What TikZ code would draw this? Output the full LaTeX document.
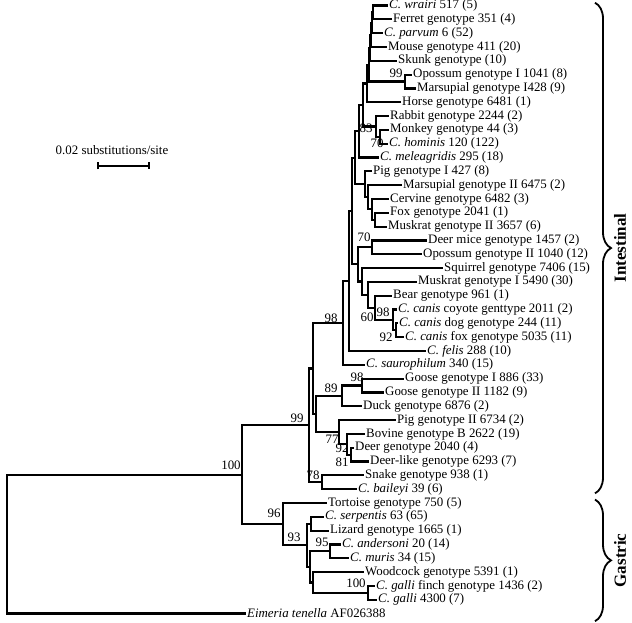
\documentclass[tikz,border=0pt]{standalone}
\usepackage{fontspec}
\setmainfont{Liberation Serif}
\usepackage{tikz}
\usetikzlibrary{arrows.meta,decorations.pathreplacing}

\begin{document}
\begin{tikzpicture}[x=1pt, y=-13.82pt,
  every node/.style={font=\fontsize{12.9}{14}\selectfont},
  leaf/.style={anchor=west, inner xsep=2pt, inner ysep=0pt},
  bs/.style={inner sep=0pt},
  branch/.style={line width=2.2pt, line cap=rect},
  grp/.style={rotate=90, font=\fontsize{17}{17}\selectfont\bfseries},
  curly/.style={decorate, decoration={brace, amplitude=16pt}, line width=1.8pt}]

  \useasboundingbox (0,-0.398) rectangle (632,44.68);

  % taxa, one per row
  \node[leaf] (wrairi) at (387,0) {\textit{C. wrairi} 517 (5)};
  \node[leaf] (ferret) at (391,1) {Ferret genotype 351 (4)};
  \node[leaf] (parvum) at (382,2) {\textit{C. parvum} 6 (52)};
  \node[leaf] (mouse) at (386,3) {Mouse genotype 411 (20)};
  \node[leaf] (skunk) at (396,4) {Skunk genotype (10)};
  \node[leaf] (opossumI) at (411,5) {Opossum genotype I 1041 (8)};
  \node[leaf] (marsupI) at (415,6) {Marsupial genotype I428 (9)};
  \node[leaf] (horse) at (400,7) {Horse genotype 6481 (1)};
  \node[leaf] (rabbit) at (388,8) {Rabbit genotype 2244 (2)};
  \node[leaf] (monkey) at (388,9) {Monkey genotype 44 (3)};
  \node[leaf] (hominis) at (387,10) {\textit{C. hominis} 120 (122)};
  \node[leaf] (meleag) at (378,11) {\textit{C. meleagridis} 295 (18)};
  \node[leaf] (pigI) at (371,12) {Pig genotype I 427 (8)};
  \node[leaf] (marsupII) at (401,13) {Marsupial genotype II 6475 (2)};
  \node[leaf] (cervine) at (388,14) {Cervine genotype 6482 (3)};
  \node[leaf] (fox) at (388,15) {Fox genotype 2041 (1)};
  \node[leaf] (muskratII) at (386,16) {Muskrat genotype II 3657 (6)};
  \node[leaf] (deermice) at (426,17) {Deer mice genotype 1457 (2)};
  \node[leaf] (opossumII) at (421,18) {Opossum genotype II 1040 (12)};
  \node[leaf] (squirrel) at (442,19) {Squirrel genotype 7406 (15)};
  \node[leaf] (muskratI) at (416,20) {Muskrat genotype I 5490 (30)};
  \node[leaf] (bear) at (391,21) {Bear genotype 961 (1)};
  \node[leaf] (coyote) at (396,22) {\textit{C. canis} coyote genttype 2011 (2)};
  \node[leaf] (dog) at (397,23) {\textit{C. canis} dog genotype 244 (11)};
  \node[leaf] (canisfox) at (403,24) {\textit{C. canis} fox genotype 5035 (11)};
  \node[leaf] (felis) at (425,25) {\textit{C. felis} 288 (10)};
  \node[leaf] (sauro) at (364,26) {\textit{C. saurophilum} 340 (15)};
  \node[leaf] (gooseI) at (403,27) {Goose genotype I 886 (33)};
  \node[leaf] (gooseII) at (383,28) {Goose genotype II 1182 (9)};
  \node[leaf] (duck) at (361,29) {Duck genotype 6876 (2)};
  \node[leaf] (pigII) at (395,30) {Pig genotype II 6734 (2)};
  \node[leaf] (bovine) at (364,31) {Bovine genotype B 2622 (19)};
  \node[leaf] (deer) at (353,32) {Deer genotype 2040 (4)};
  \node[leaf] (deerlike) at (368,33) {Deer-like genotype 6293 (7)};
  \node[leaf] (snake) at (363,34) {Snake genotype 938 (1)};
  \node[leaf] (baileyi) at (356,35) {\textit{C. baileyi} 39 (6)};
  \node[leaf] (tortoise) at (326,36) {Tortoise genotype 750 (5)};
  \node[leaf] (serpentis) at (323,37) {\textit{C. serpentis} 63 (65)};
  \node[leaf] (lizard) at (328,38) {Lizard genotype 1665 (1)};
  \node[leaf] (andersoni) at (340,39) {\textit{C. andersoni} 20 (14)};
  \node[leaf] (muris) at (348,40) {\textit{C. muris} 34 (15)};
  \node[leaf] (woodcock) at (363,41) {Woodcock genotype 5391 (1)};
  \node[leaf] (gallifinch) at (374,42) {\textit{C. galli} finch genotype 1436 (2)};
  \node[leaf] (galli) at (376,43) {\textit{C. galli} 4300 (7)};
  \node[leaf] (eimeria) at (245,44) {\textit{Eimeria tenella} AF026388};

  % internal nodes
  \coordinate (k1) at (373,0.5);
  \coordinate (k2) at (372,1.25);
  \coordinate (k3) at (371,2.125);
  \coordinate (k4) at (370,3.0625);
  \coordinate (n99o) at (405,5.5);
  \coordinate (k5) at (369,4.28);
  \coordinate (k6) at (367,5.64);
  \coordinate (n70h) at (380,9.5);
  \coordinate (n83) at (376,8.75);
  \coordinate (k7) at (363,7.195);
  \coordinate (k8) at (359,9.1);
  \coordinate (nfm) at (375,15.5);
  \coordinate (ncfm) at (372,14.75);
  \coordinate (nmc) at (368,13.875);
  \coordinate (np) at (365,12.94);
  \coordinate (k9) at (355,11.02);
  \coordinate (n70) at (372,17.5);
  \coordinate (n92c) at (396,23.5);
  \coordinate (n98c) at (393,22.75);
  \coordinate (n60) at (375,21.875);
  \coordinate (nmu) at (368,20.94);
  \coordinate (nsq) at (362,19.97);
  \coordinate (nmid) at (358,18.73);
  \coordinate (nup) at (352,14.875);
  \coordinate (nt) at (349,19.94);
  \coordinate (n98) at (343,22.97);
  \coordinate (n98g) at (362,27.5);
  \coordinate (n89) at (342,28.25);
  \coordinate (n92) at (351,32.5);
  \coordinate (nc) at (347,31.75);
  \coordinate (n77) at (339,30.875);
  \coordinate (nb) at (316,29.56);
  \coordinate (na) at (313,26.27);
  \coordinate (n78) at (322,34.5);
  \coordinate (n99) at (309,30.38);
  \coordinate (nsl) at (311,37.5);
  \coordinate (n95) at (330,39.5);
  \coordinate (n100g) at (368,42.5);
  \coordinate (nwg) at (313,41.75);
  \coordinate (nx) at (310,40.625);
  \coordinate (n93) at (307,39.06);
  \coordinate (n96) at (283,37.53);
  \coordinate (n100) at (242,33.96);
  \coordinate (root) at (7,38.98);

  % branches
  \draw[branch] (k1) |- (wrairi) (k1) |- (ferret)
    (k2) |- (k1) (k2) |- (parvum)
    (k3) |- (k2) (k3) |- (mouse)
    (k4) |- (k3) (k4) |- (skunk)
    (n99o) |- (opossumI) (n99o) |- (marsupI)
    (k5) |- (k4) (k5) |- (n99o)
    (k6) |- (k5) (k6) |- (horse)
    (n70h) |- (monkey) (n70h) |- (hominis)
    (n83) |- (rabbit) (n83) |- (n70h)
    (k7) |- (k6) (k7) |- (n83)
    (k8) |- (k7) (k8) |- (meleag)
    (nfm) |- (fox) (nfm) |- (muskratII)
    (ncfm) |- (cervine) (ncfm) |- (nfm)
    (nmc) |- (marsupII) (nmc) |- (ncfm)
    (np) |- (pigI) (np) |- (nmc)
    (k9) |- (k8) (k9) |- (np);
  \draw[branch] (n70) |- (deermice) (n70) |- (opossumII)
    (n92c) |- (dog) (n92c) |- (canisfox)
    (n98c) |- (coyote) (n98c) |- (n92c)
    (n60) |- (bear) (n60) |- (n98c)
    (nmu) |- (muskratI) (nmu) |- (n60)
    (nsq) |- (squirrel) (nsq) |- (nmu)
    (nmid) |- (n70) (nmid) |- (nsq)
    (nup) |- (k9) (nup) |- (nmid)
    (nt) |- (nup) (nt) |- (felis)
    (n98) |- (nt) (n98) |- (sauro);
  \draw[branch] (n98g) |- (gooseI) (n98g) |- (gooseII)
    (n89) |- (n98g) (n89) |- (duck)
    (n92) |- (deer) (n92) |- (deerlike)
    (nc) |- (bovine) (nc) |- (n92)
    (n77) |- (pigII) (n77) |- (nc)
    (nb) |- (n89) (nb) |- (n77)
    (na) |- (n98) (na) |- (nb)
    (n78) |- (snake) (n78) |- (baileyi)
    (n99) |- (na) (n99) |- (n78);
  \draw[branch] (nsl) |- (serpentis) (nsl) |- (lizard)
    (n95) |- (andersoni) (n95) |- (muris)
    (n100g) |- (gallifinch) (n100g) |- (galli)
    (nwg) |- (woodcock) (nwg) |- (n100g)
    (nx) |- (n95) (nx) |- (nwg)
    (n93) |- (nsl) (n93) |- (nx)
    (n96) |- (tortoise) (n96) |- (n93)
    (n100) |- (n99) (n100) |- (n96)
    (root) |- (n100) (root) |- (eimeria);

  % bootstrap values
  \node[bs] (b100) at (231,33.25) {100};
  \node[bs] (b99) at (297,29.85) {99};
  \node[bs] (b96) at (274,36.72) {96};
  \node[bs] (b93) at (294,38.46) {93};
  \node[bs] (b95) at (322,38.82) {95};
  \node[bs] (b100g) at (356,41.79) {100};
  \node[bs] (b78) at (313,33.97) {78};
  \node[bs] (b89) at (331,27.68) {89};
  \node[bs] (b98g) at (357,26.88) {98};
  \node[bs] (b77) at (332,31.38) {77};
  \node[bs] (b92) at (342,32.06) {92};
  \node[bs] (b81) at (342,33.02) {81};
  \node[bs] (b99o) at (396,4.88) {99};
  \node[bs] (b83) at (366,8.86) {83};
  \node[bs] (b70h) at (377,9.95) {70};
  \node[bs] (b70) at (364,16.75) {70};
  \node[bs] (b98) at (331,22.61) {98};
  \node[bs] (b60) at (367,22.54) {60};
  \node[bs] (b98c) at (383,22.18) {98};
  \node[bs] (b92c) at (386,23.99) {92};

  % scale bar
  \node (scaletxt) at (112,10.46) {0.02 substitutions/site};
  \coordinate (sb1) at (97,11.6);
  \coordinate (sb2) at (150,11.6);
  \draw[line width=2.2pt, {Bar[width=7pt]}-{Bar[width=7pt]}] (sb1) -- (sb2);

  % groups
  \coordinate (itop) at (595,-0.2);
  \coordinate (ibot) at (595,35.3);
  \coordinate (gtop) at (595,35.75);
  \coordinate (gbot) at (595,44.55);
  \draw[curly] (itop) -- (ibot);
  \draw[curly] (gtop) -- (gbot);
  \node[grp] (intest) at (620,17.55) {Intestinal};
  \node[grp] (gastric) at (620,40.15) {Gastric};
\end{tikzpicture}
\end{document}
